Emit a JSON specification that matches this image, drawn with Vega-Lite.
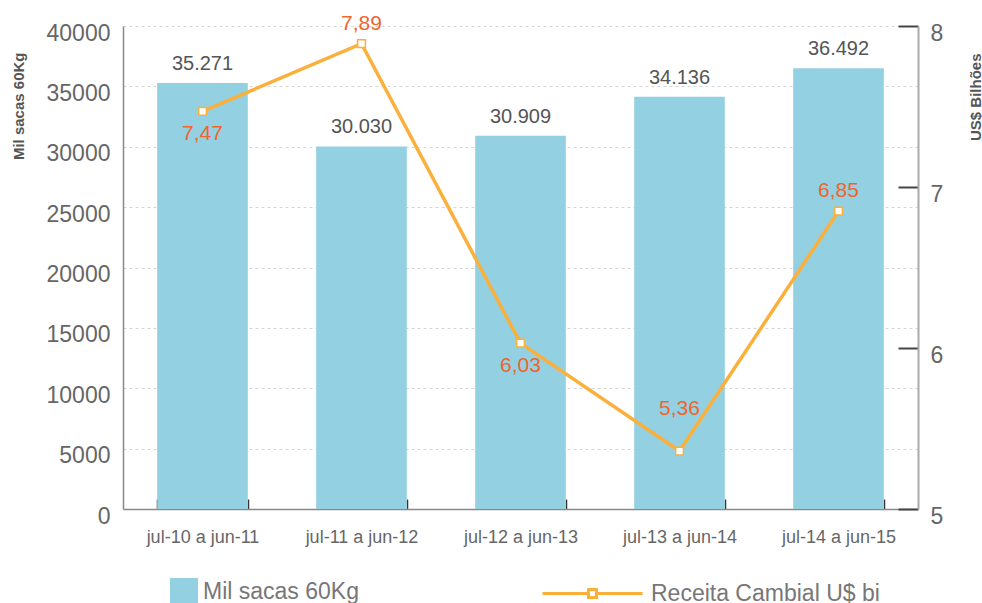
{
  "$schema": "https://vega.github.io/schema/vega-lite/v6.json",
  "width": 795,
  "height": 483,
  "autosize": {"type": "none"},
  "padding": {"left": 123, "top": 26, "right": 64, "bottom": 94},
  "config": {
    "font": "Liberation Sans",
    "view": {"stroke": null},
    "locale": {"number": {"decimal": ",", "thousands": ".", "grouping": [3], "currency": ["R$", ""]}}
  },
  "data": {
    "values": [
      {"periodo": "jul-10 a jun-11", "sacas": 35271, "receita": 7.47},
      {"periodo": "jul-11 a jun-12", "sacas": 30030, "receita": 7.89},
      {"periodo": "jul-12 a jun-13", "sacas": 30909, "receita": 6.03},
      {"periodo": "jul-13 a jun-14", "sacas": 34136, "receita": 5.36},
      {"periodo": "jul-14 a jun-15", "sacas": 36492, "receita": 6.85}
    ]
  },
  "encoding": {
    "x": {
      "field": "periodo", "type": "nominal", "sort": null,
      "scale": {"paddingInner": 0.43, "paddingOuter": 0.215},
      "axis": {
        "title": null, "labelAngle": 0, "labelFontSize": 18, "labelColor": "#666",
        "labelPadding": 29, "tickBand": "extent", "tickSize": -10, "tickColor": "#333",
        "tickWidth": 1.5, "domainColor": "#888", "domainWidth": 1.5, "grid": false
      }
    }
  },
  "layer": [
    {
      "encoding": {
        "y": {
          "field": "sacas", "type": "quantitative",
          "scale": {"domain": [0, 40000]},
          "axis": {
            "title": "Mil sacas 60Kg", "titleFontSize": 15, "titleFontWeight": "bold", "titleColor": "#555",
            "titleAngle": -90, "titleAlign": "right", "titleBaseline": "middle", "titleX": -105, "titleY": 26,
            "values": [0, 5000, 10000, 15000, 20000, 25000, 30000, 35000, 40000],
            "format": "d", "labelFontSize": 23, "labelColor": "#666", "labelPadding": 13, "labelOffset": 7,
            "ticks": false, "domainColor": "#888", "domainWidth": 1.5,
            "grid": true, "gridDash": [3, 3], "gridColor": "#d5d5d5"
          }
        }
      },
      "layer": [
        {
          "mark": {"type": "bar"},
          "encoding": {
            "fill": {
              "datum": "Mil sacas 60Kg",
              "scale": {"range": ["#93d0e2"]},
              "legend": {
                "orient": "none", "legendX": 47, "legendY": 552, "title": null, "symbolType": "square", "symbolSize": 784,
                "symbolStrokeWidth": 0, "labelFontSize": 23, "labelColor": "#777", "labelOffset": 5, "labelLimit": 400
              }
            }
          }
        },
        {
          "mark": {"type": "text", "baseline": "bottom", "dy": -9, "fontSize": 20, "color": "#555"},
          "encoding": {"text": {"field": "sacas", "type": "quantitative", "format": ",.0f"}}
        }
      ]
    },
    {
      "encoding": {
        "y": {
          "field": "receita", "type": "quantitative",
          "scale": {"domain": [5, 8]},
          "axis": {
            "orient": "right", "title": "US$ Bilhões", "titleFontSize": 15, "titleFontWeight": "bold", "titleColor": "#555",
            "titleAngle": -90, "titleAlign": "right", "titleBaseline": "middle", "titleX": 57, "titleY": 27,
            "values": [5, 6, 7, 8], "format": "d", "labelFontSize": 23, "labelColor": "#666",
            "labelPadding": 32, "labelOffset": 7, "tickSize": -20, "tickWidth": 2, "tickColor": "#444",
            "domainColor": "#aaa", "domainWidth": 2, "grid": false
          }
        }
      },
      "layer": [
        {
          "mark": {"type": "line", "strokeWidth": 3.5, "point": {"shape": "square", "filled": false, "fill": "white", "size": 60, "strokeWidth": 1.5}},
          "encoding": {
            "stroke": {
              "datum": "Receita Cambial U$ bi",
              "scale": {"range": ["#fbb03b"]},
              "legend": {
                "orient": "none", "legendX": 418, "legendY": 516, "title": null,
                "symbolType": "M-1,0H-0.08M0.08,0H1M-0.08,-0.08H0.08V0.08H-0.08Z",
                "symbolSize": 10000, "symbolStrokeWidth": 3, "symbolFillColor": "white",
                "labelFontSize": 23, "labelColor": "#777", "labelOffset": 7, "labelLimit": 400
              }
            }
          }
        },
        {
          "transform": [{"filter": "datum.receita == 7.47 || datum.receita == 6.03"}],
          "mark": {"type": "text", "baseline": "top", "dy": 12, "fontSize": 21, "color": "#f0652b"},
          "encoding": {"text": {"field": "receita", "type": "quantitative", "format": ".2f"}}
        },
        {
          "transform": [{"filter": "datum.receita == 7.89 || datum.receita == 6.85"}],
          "mark": {"type": "text", "baseline": "alphabetic", "dy": -14, "fontSize": 21, "color": "#f0652b"},
          "encoding": {"text": {"field": "receita", "type": "quantitative", "format": ".2f"}}
        },
        {
          "transform": [{"filter": "datum.receita == 5.36"}],
          "mark": {"type": "text", "baseline": "alphabetic", "dy": -36, "fontSize": 21, "color": "#f0652b"},
          "encoding": {"text": {"field": "receita", "type": "quantitative", "format": ".2f"}}
        }
      ]
    }
  ],
  "resolve": {"scale": {"y": "independent"}}
}
